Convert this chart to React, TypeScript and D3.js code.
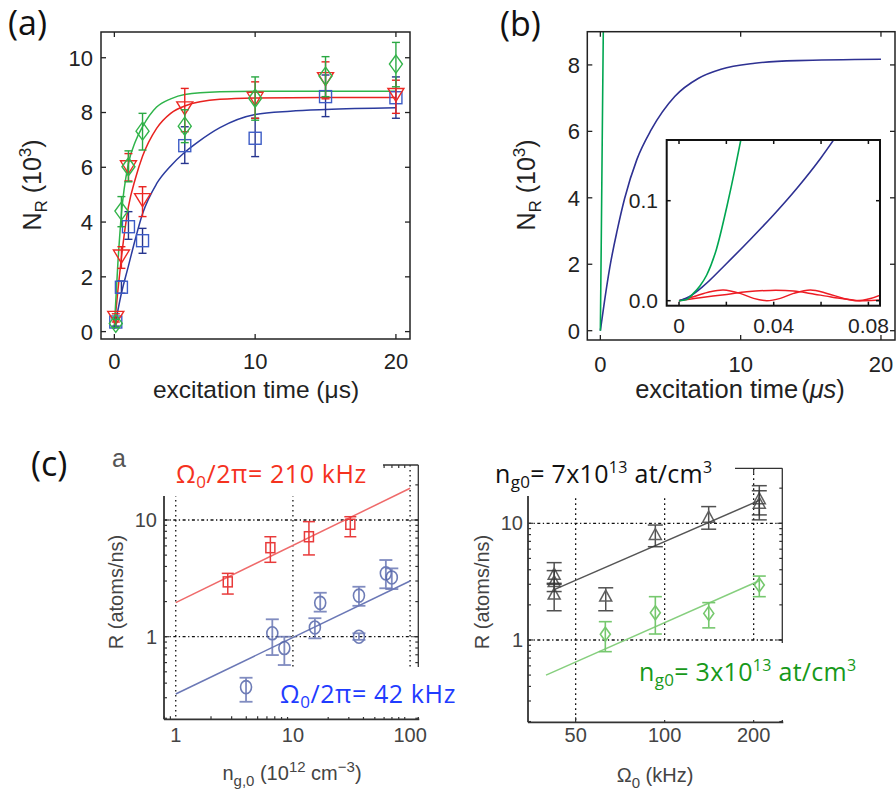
import React from "react";
import * as d3 from "d3";

// ---------------- Panel (a) data ----------------
const timesA = [0.1, 0.5, 1, 2, 5, 10, 15, 20];
const blueA = [0.35, 1.62, 3.83, 3.32, 6.79, 7.06, 8.58, 8.54];
const blueALo = [0.2, 1.4, 3.37, 2.86, 6.14, 6.39, 7.85, 7.79];
const blueAHi = [0.5, 1.85, 4.38, 3.77, 7.48, 7.79, 9.37, 9.3];
const redA = [0.5, 2.74, 6.0, 4.8, 8.15, 8.5, 9.22, 8.64];
const redALo = [0.35, 2.31, 5.5, 4.2, 7.3, 7.79, 8.5, 7.97];
const redAHi = [0.65, 3.1, 6.5, 5.29, 8.88, 9.12, 9.85, 9.18];
const greenA = [0.3, 4.4, 6.02, 7.32, 7.5, 8.52, 9.33, 9.77];
const greenALo = [0.15, 3.83, 5.47, 6.63, 6.9, 7.72, 8.58, 8.94];
const greenAHi = [0.45, 4.93, 6.6, 7.97, 8.1, 9.3, 10.04, 10.56];

const blueFitT = [0, 0.5, 1, 1.5, 2, 3, 4, 5, 6, 7.5, 10, 12.5, 15, 20];
const blueFitV = [0.1, 1.4, 2.4, 3.4, 4.3, 5.4, 6.05, 6.55, 6.95, 7.45, 7.93, 8.05, 8.11, 8.17];
const redFitT = [0, 0.25, 0.5, 1, 1.5, 2, 3, 4, 5, 7.5, 10, 15, 20];
const redFitV = [0.2, 1.5, 2.7, 4.56, 5.6, 6.4, 7.42, 7.97, 8.24, 8.48, 8.53, 8.55, 8.55];
const greenFitT = [0, 0.25, 0.5, 1, 1.5, 2, 3, 4, 5, 7.5, 10, 20];
const greenFitV = [0.2, 2.5, 4.3, 6.14, 6.95, 7.48, 8.2, 8.5, 8.66, 8.76, 8.78, 8.78];

const ticksAX = [0, 10, 20];
const ticksAY = [0, 2, 4, 6, 8, 10];

// ---------------- Panel (b) data ----------------
const blueBT = [0, 0.3, 0.67, 1.2, 1.73, 2.6, 3.63, 5.3, 7, 8.6, 11, 14, 20];
const blueBV = [0, 0.9, 1.9, 3.02, 3.98, 5.15, 6.05, 7.05, 7.6, 7.87, 8.05, 8.13, 8.17];
const greenBT = [0, 0.07, 0.14, 0.21];
const greenBV = [0, 2.9, 6.0, 9.0];
const ticksBX = [0, 10, 20];
const ticksBY = [0, 2, 4, 6, 8];

// inset
const insetGreenT = [0, 0.00325, 0.00607, 0.0089, 0.0117, 0.0159, 0.0202, 0.0237, 0.0261];
const insetGreenV = [0, 0.0013, 0.0073, 0.015, 0.0257, 0.0523, 0.094, 0.1323, 0.1607];
const insetBlueT = [0, 0.005, 0.01, 0.02, 0.03, 0.04, 0.05, 0.06, 0.0653];
const insetBlueV = [0, 0.005, 0.014, 0.037, 0.061, 0.086, 0.113, 0.143, 0.1607];
const insetRed1T = [0, 0.00607, 0.0131, 0.0188, 0.0258, 0.0315, 0.0371, 0.0428, 0.0484, 0.0555, 0.0625, 0.0696, 0.0752, 0.0809, 0.0851];
const insetRed1V = [0, 0.004, 0.009, 0.0107, 0.0073, 0.0023, 0, 0.0023, 0.0073, 0.0107, 0.0073, 0.0023, 0, 0.0023, 0.0057];
const insetRed2T = [0, 0.0089, 0.0202, 0.0286, 0.0385, 0.0484, 0.0555, 0.0653, 0.0766, 0.0851];
const insetRed2V = [0, 0.003, 0.0063, 0.009, 0.0103, 0.0097, 0.0073, 0.0033, 0, 0.0007];
const insetTicksX = [0, 0.02, 0.04, 0.06, 0.08];
const insetLabelsX = [0, 0.04, 0.08];
const insetLabelsXText = ["0", "0.04", "0.08"];
const insetTicksY = [0, 0.1];
const insetLabelsYText = ["0.0", "0.1"];

// ---------------- Panel (c) left data ----------------
const redN = [2.78, 6.42, 13.7, 30.9];
const redR = [2.95, 5.79, 7.19, 9.19];
const redRLo = [2.32, 4.34, 5.02, 7.19];
const redRHi = [3.49, 7.19, 9.68, 10.67];
const blueN = [3.98, 6.67, 8.45, 15.4, 17.1, 36.6, 36.6, 62.1, 69.8];
const blueR = [0.37, 1.07, 0.8, 1.2, 1.95, 2.25, 1.0, 3.49, 3.22];
const blueRLo = [0.277, 0.696, 0.572, 0.968, 1.64, 1.84, 0.94, 2.6, 2.56];
const blueRHi = [0.445, 1.41, 1.0, 1.44, 2.38, 2.68, 1.07, 4.54, 3.85];
const redFitN = [1, 100];
const redFitR = [1.96, 18.7];
const blueFitN = [1, 100];
const blueFitR = [0.323, 3.0];
const ticksCLX = [1, 10, 100];
const ticksCY = [1, 10];

// ---------------- Panel (c) right data ----------------
const blackOmega = [42.3, 42.3, 42.3, 63.2, 93, 140.9, 209, 209];
const blackR = [3.7, 3.2, 2.5, 2.4, 8.1, 11.4, 16.4, 15.0];
const blackRLo = [3.0, 2.6, 1.78, 1.78, 6.3, 8.9, 11.8, 10.7];
const blackRHi = [4.6, 3.93, 3.06, 2.8, 9.66, 13.9, 21, 19];
const greenOmega = [63, 93, 141, 209];
const greenR = [1.12, 1.71, 1.69, 2.96];
const greenRLo = [0.794, 1.125, 1.27, 2.35];
const greenRHi = [1.435, 2.35, 2.09, 3.53];
const blackFitO = [42.3, 209];
const blackFitR = [2.7, 15.7];
const greenFitO = [39.7, 209];
const greenFitR = [0.5, 3.22];
const ticksCRX = [50, 100, 200];

const HELV = "'Liberation Sans', Arial, Helvetica, sans-serif";
const CAL = "'Open Sans', 'Noto Sans', sans-serif";

type Sc = (v: number) => number;

function pathOf(xs: number[], ys: number[], sx: Sc, sy: Sc, curve: any = d3.curveMonotoneX) {
  const pts: [number, number][] = xs.map((x, i) => [sx(x), sy(ys[i])]);
  return d3.line().curve(curve)(pts) || "";
}

function ErrBar({ x, lo, hi, cw, color, sw = 1.3 }: any) {
  return (
    <g stroke={color} strokeWidth={sw} fill="none">
      <line x1={x} x2={x} y1={lo} y2={hi} />
      <line x1={x - cw / 2} x2={x + cw / 2} y1={lo} y2={lo} />
      <line x1={x - cw / 2} x2={x + cw / 2} y1={hi} y2={hi} />
    </g>
  );
}

function Marker({ kind, x, y, w, h, color, sw = 1.3 }: any) {
  if (kind === "square")
    return <rect x={x - w / 2} y={y - h / 2} width={w} height={h} fill="none" stroke={color} strokeWidth={sw} />;
  if (kind === "circle")
    return <ellipse cx={x} cy={y} rx={w / 2} ry={h / 2} fill="none" stroke={color} strokeWidth={sw} />;
  let pts: number[][] = [];
  if (kind === "triDown") pts = [[x - w / 2, y - h / 2], [x + w / 2, y - h / 2], [x, y + h / 2]];
  if (kind === "triUp") pts = [[x - w / 2, y + h / 2], [x + w / 2, y + h / 2], [x, y - h / 2]];
  if (kind === "diamond") pts = [[x, y - h / 2], [x + w / 2, y], [x, y + h / 2], [x - w / 2, y]];
  return <polygon points={pts.map((p) => p.join(",")).join(" ")} fill="none" stroke={color} strokeWidth={sw} />;
}

function PanelA() {
  const sx = d3.scaleLinear().domain([-0.95, 21]).range([101, 410]);
  const sy = d3.scaleLinear().domain([-0.27, 10.94]).range([339, 32]);
  const [x0, x1] = sx.range();
  const [y0, y1] = sy.range();
  const series = [
    { v: blueA, lo: blueALo, hi: blueAHi, kind: "square", w: 12, h: 12, mc: "#3d5cc6", ec: "#27358f" },
    { v: redA, lo: redALo, hi: redAHi, kind: "triDown", w: 16, h: 13, mc: "#ee2a24", ec: "#e8221f" },
    { v: greenA, lo: greenALo, hi: greenAHi, kind: "diamond", w: 13, h: 18, mc: "#33b44a", ec: "#2aa843" },
  ];
  return (
    <g>
      <text x={8} y={35} fontFamily={CAL} fontSize={34} fill="#111">(a)</text>
      <path d={pathOf(blueFitT, blueFitV, sx, sy)} fill="none" stroke="#2b3b9e" strokeWidth={1.5} />
      <path d={pathOf(redFitT, redFitV, sx, sy)} fill="none" stroke="#e8221f" strokeWidth={1.5} />
      <path d={pathOf(greenFitT, greenFitV, sx, sy)} fill="none" stroke="#2fb44a" strokeWidth={1.5} />
      {series.map((s, si) => (
        <g key={si}>
          {timesA.map((t, i) => (
            <g key={i}>
              <ErrBar x={sx(t)} lo={sy(s.lo[i])} hi={sy(s.hi[i])} cw={8} color={s.ec} sw={1.4} />
              <Marker kind={s.kind} x={sx(t)} y={sy(s.v[i])} w={s.w} h={s.h} color={s.mc} sw={1.4} />
            </g>
          ))}
        </g>
      ))}
      <rect x={x0} y={y1} width={x1 - x0} height={y0 - y1} fill="none" stroke="#222" strokeWidth={1.5} />
      {ticksAX.map((t) => (
        <g key={t} stroke="#222" strokeWidth={1.3}>
          <line x1={sx(t)} x2={sx(t)} y1={y0} y2={y0 - 5} />
          <line x1={sx(t)} x2={sx(t)} y1={y1} y2={y1 + 5} />
        </g>
      ))}
      {ticksAY.map((t) => (
        <g key={t} stroke="#222" strokeWidth={1.3}>
          <line x1={x0} x2={x0 + 5} y1={sy(t)} y2={sy(t)} />
          <line x1={x1} x2={x1 - 5} y1={sy(t)} y2={sy(t)} />
        </g>
      ))}
      {ticksAX.map((t) => (
        <text key={t} x={sx(t)} y={369} textAnchor="middle" fontFamily={HELV} fontSize={22} fill="#222">{t}</text>
      ))}
      {ticksAY.map((t) => (
        <text key={t} x={93} y={sy(t)} dy="0.36em" textAnchor="end" fontFamily={HELV} fontSize={22} fill="#222">{t}</text>
      ))}
      <text x={256} y={398} textAnchor="middle" fontFamily={HELV} fontSize={24.5} fill="#222">excitation time (μs)</text>
      <text transform="translate(41,185) rotate(-90)" textAnchor="middle" fontFamily={HELV} fontSize={25} fill="#222">
        N<tspan dy={6} fontSize={17}>R</tspan>
        <tspan dy={-6}> (10</tspan>
        <tspan dy={-10} fontSize={17}>3</tspan>
        <tspan dy={10}>)</tspan>
      </text>
    </g>
  );
}

function PanelB() {
  const sx = d3.scaleLinear().domain([-0.93, 21]).range([587.3, 895]);
  const sy = d3.scaleLinear().domain([-0.28, 9.0]).range([340, 31.7]);
  const [x0, x1] = sx.range();
  const [y0, y1] = sy.range();
  const ix = d3.scaleLinear().domain([-0.0052, 0.0849]).range([666.7, 880]);
  const iy = d3.scaleLinear().domain([-0.005, 0.1607]).range([305.7, 140]);
  const [ix0, ix1] = ix.range();
  const [iy0, iy1] = iy.range();
  return (
    <g>
      <defs>
        <clipPath id="clipB"><rect x={x0} y={y1} width={x1 - x0} height={y0 - y1} /></clipPath>
        <clipPath id="clipI"><rect x={ix0} y={iy1} width={ix1 - ix0} height={iy0 - iy1} /></clipPath>
      </defs>
      <text x={500} y={36} fontFamily={CAL} fontSize={34} fill="#111">(b)</text>
      <g clipPath="url(#clipB)">
        <path d={pathOf(blueBT, blueBV, sx, sy)} fill="none" stroke="#2e3192" strokeWidth={1.6} />
        <path d={pathOf(greenBT, greenBV, sx, sy)} fill="none" stroke="#00a651" strokeWidth={1.6} />
      </g>
      <rect x={x0} y={y1} width={x1 - x0} height={y0 - y1} fill="none" stroke="#222" strokeWidth={1.5} />
      {ticksBX.map((t) => (
        <g key={t} stroke="#222" strokeWidth={1.3}>
          <line x1={sx(t)} x2={sx(t)} y1={y0} y2={y0 - 5} />
          <line x1={sx(t)} x2={sx(t)} y1={y1} y2={y1 + 5} />
        </g>
      ))}
      {ticksBY.map((t) => (
        <g key={t} stroke="#222" strokeWidth={1.3}>
          <line x1={x0} x2={x0 + 5} y1={sy(t)} y2={sy(t)} />
          <line x1={x1} x2={x1 - 5} y1={sy(t)} y2={sy(t)} />
        </g>
      ))}
      {ticksBX.map((t) => (
        <text key={t} x={sx(t)} y={372} textAnchor="middle" fontFamily={HELV} fontSize={22} fill="#222">{t}</text>
      ))}
      {ticksBY.map((t) => (
        <text key={t} x={580} y={sy(t)} dy="0.36em" textAnchor="end" fontFamily={HELV} fontSize={22} fill="#222">{t}</text>
      ))}
      <text x={740} y={398} textAnchor="middle" fontFamily={HELV} fontSize={25.5} fill="#222">
        excitation time<tspan dx={3}>(</tspan><tspan fontStyle="italic">μs</tspan><tspan>)</tspan>
      </text>
      <text transform="translate(535,185) rotate(-90)" textAnchor="middle" fontFamily={HELV} fontSize={25} fill="#222">
        N<tspan dy={6} fontSize={17}>R</tspan>
        <tspan dy={-6}> (10</tspan>
        <tspan dy={-10} fontSize={17}>3</tspan>
        <tspan dy={10}>)</tspan>
      </text>
      {/* inset */}
      <rect x={ix0} y={iy1} width={ix1 - ix0} height={iy0 - iy1} fill="#fff" stroke="none" />
      <g clipPath="url(#clipI)">
        <path d={pathOf(insetRed1T, insetRed1V, ix, iy, d3.curveCatmullRom)} fill="none" stroke="#ed1c24" strokeWidth={1.5} />
        <path d={pathOf(insetRed2T, insetRed2V, ix, iy, d3.curveCatmullRom)} fill="none" stroke="#ed1c24" strokeWidth={1.5} />
        <path d={pathOf(insetBlueT, insetBlueV, ix, iy)} fill="none" stroke="#2e3192" strokeWidth={1.6} />
        <path d={pathOf(insetGreenT, insetGreenV, ix, iy)} fill="none" stroke="#00a651" strokeWidth={1.6} />
      </g>
      <rect x={ix0} y={iy1} width={ix1 - ix0} height={iy0 - iy1} fill="none" stroke="#111" strokeWidth={2} />
      {insetTicksX.map((t) => (
        <g key={t} stroke="#111" strokeWidth={1.5}>
          <line x1={ix(t)} x2={ix(t)} y1={iy0} y2={iy0 - 4} />
          <line x1={ix(t)} x2={ix(t)} y1={iy1} y2={iy1 + 4} />
        </g>
      ))}
      {insetTicksY.map((t) => (
        <g key={t} stroke="#111" strokeWidth={1.5}>
          <line x1={ix0} x2={ix0 + 4} y1={iy(t)} y2={iy(t)} />
          <line x1={ix1} x2={ix1 - 4} y1={iy(t)} y2={iy(t)} />
        </g>
      ))}
      {insetLabelsX.map((t, i) => (
        <text key={t} x={ix(t)} y={333} textAnchor="middle" fontFamily={HELV} fontSize={21} fill="#222">{insetLabelsXText[i]}</text>
      ))}
      {insetTicksY.map((t, i) => (
        <text key={t} x={658} y={iy(t)} dy="0.36em" textAnchor="end" fontFamily={HELV} fontSize={21} fill="#222">{insetLabelsYText[i]}</text>
      ))}
    </g>
  );
}

function logMinor(lo: number, hi: number) {
  const out: number[] = [];
  for (let e = Math.floor(Math.log10(lo)); e <= Math.ceil(Math.log10(hi)); e++) {
    for (let m = 2; m <= 9; m++) {
      const v = m * Math.pow(10, e);
      if (v > lo && v < hi) out.push(v);
    }
  }
  return out;
}

const GRID_DASH = "1.6 3.4";

function PanelCLeft() {
  const sx = d3.scaleLog().domain([0.794, 117.5]).range([164, 418.3]);
  const sy = d3.scaleLog().domain([0.196, 29.6]).range([719.3, 465]);
  const [x0, x1] = sx.range();
  const [y0, y1] = sy.range();
  const minY = logMinor(0.196, 29.6);
  const minX = logMinor(0.794, 117.5);
  return (
    <g>
      <text x={31} y={476} fontFamily={CAL} fontSize={34} fill="#111">(c)</text>
      <text x={112} y={467} fontFamily={HELV} fontSize={25} fill="#555">a</text>
      {ticksCLX.map((t) => (
        <line key={t} x1={sx(t)} x2={sx(t)} y1={y1} y2={y0} stroke="#111" strokeWidth={1.3} strokeDasharray={GRID_DASH} />
      ))}
      {ticksCY.map((t) => (
        <line key={t} x1={x0} x2={x1} y1={sy(t)} y2={sy(t)} stroke="#111" strokeWidth={1.3} strokeDasharray="3 2.5 1.3 2.5" />
      ))}
      <g stroke="#333" fill="none">
        <line x1={x0} x2={x0} y1={y1} y2={y0} strokeWidth={1.8} />
        <line x1={x0} x2={x1 + 1} y1={y0} y2={y0} strokeWidth={1.8} />
        <line x1={x1} x2={x1} y1={y1} y2={y0} strokeWidth={1.3} />
        <line x1={x0} x2={x1} y1={y1} y2={y1} strokeWidth={1.3} />
        {minY.map((t) => (
          <g key={t} strokeWidth={1.2}>
            <line x1={x0} x2={x0 + 3} y1={sy(t)} y2={sy(t)} />
            <line x1={x1} x2={x1 - 3} y1={sy(t)} y2={sy(t)} />
          </g>
        ))}
        {ticksCY.map((t) => (
          <g key={t} strokeWidth={1.2}>
            <line x1={x0} x2={x0 + 5} y1={sy(t)} y2={sy(t)} />
            <line x1={x1} x2={x1 - 5} y1={sy(t)} y2={sy(t)} />
          </g>
        ))}
        {minX.map((t) => (
          <g key={t} strokeWidth={1.2}>
            <line x1={sx(t)} x2={sx(t)} y1={y0} y2={y0 - 3} />
            <line x1={sx(t)} x2={sx(t)} y1={y1} y2={y1 + 3} />
          </g>
        ))}
      </g>
      <rect x={150} y={440} width={233} height={56} fill="#fff" />
      <rect x={276} y={667} width={190} height={50} fill="#fff" />
      <path d={pathOf(redFitN, redFitR, sx, sy, d3.curveLinear)} stroke="#ef6a6a" strokeWidth={1.5} fill="none" />
      <path d={pathOf(blueFitN, blueFitR, sx, sy, d3.curveLinear)} stroke="#6b78b6" strokeWidth={1.5} fill="none" />
      {redN.map((n, i) => (
        <g key={i}>
          <ErrBar x={sx(n)} lo={sy(redRLo[i])} hi={sy(redRHi[i])} cw={12} color="#e83a3a" sw={1.5} />
          <Marker kind="square" x={sx(n)} y={sy(redR[i])} w={9} h={10} color="#e83a3a" sw={1.5} />
        </g>
      ))}
      {blueN.map((n, i) => (
        <g key={i} opacity={0.85}>
          <ErrBar x={sx(n)} lo={sy(blueRLo[i])} hi={sy(blueRHi[i])} cw={13} color="#6b78b6" sw={1.8} />
          <Marker kind="circle" x={sx(n)} y={sy(blueR[i])} w={11} h={13} color="#5566aa" sw={1.6} />
        </g>
      ))}
      {ticksCLX.map((t) => (
        <text key={t} x={sx(t)} y={742} textAnchor="middle" fontFamily={HELV} fontSize={20} fill="#444">{t}</text>
      ))}
      {ticksCY.map((t) => (
        <text key={t} x={157} y={sy(t)} dy="0.36em" textAnchor="end" fontFamily={HELV} fontSize={20} fill="#444">{t}</text>
      ))}
      <text transform="translate(123,592) rotate(-90)" textAnchor="middle" fontFamily={HELV} fontSize={20} fill="#444">R (atoms/ns)</text>
      <text x={292} y={780} textAnchor="middle" fontFamily={HELV} fontSize={20} fill="#444">
        n<tspan dy={6} fontSize={15}>g,0</tspan>
        <tspan dy={-6}> (10</tspan>
        <tspan dy={-8} fontSize={15}>12</tspan>
        <tspan dy={8}> cm</tspan>
        <tspan dy={-8} fontSize={15}>−3</tspan>
        <tspan dy={8}>)</tspan>
      </text>
      <text x={176} y={483} fontFamily={CAL} fontSize={25} letterSpacing={0.6} fill="#f5321e">
        Ω<tspan dy={5} fontSize={17}>0</tspan>
        <tspan dy={-5}>/2π= 210 kHz</tspan>
      </text>
      <text x={280} y={703} fontFamily={CAL} fontSize={25} letterSpacing={0.6} fill="#1f3cff">
        Ω<tspan dy={5} fontSize={17}>0</tspan>
        <tspan dy={-5}>/2π= 42 kHz</tspan>
      </text>
    </g>
  );
}

function PanelCRight() {
  const sx = d3.scaleLog().domain([34.5, 250]).range([528, 782.3]);
  const sy = d3.scaleLog().domain([0.197, 29.6]).range([722.3, 468.3]);
  const [x0, x1] = sx.range();
  const [y0, y1] = sy.range();
  const minY = logMinor(0.197, 29.6);
  return (
    <g>
      {ticksCRX.map((t) => (
        <line key={t} x1={sx(t)} x2={sx(t)} y1={y1} y2={y0} stroke="#111" strokeWidth={1.3} strokeDasharray={GRID_DASH} />
      ))}
      {ticksCY.map((t) => (
        <line key={t} x1={x0} x2={x1} y1={sy(t)} y2={sy(t)} stroke="#111" strokeWidth={1.3} strokeDasharray="3 2.5 1.3 2.5" />
      ))}
      <g stroke="#333" fill="none">
        <line x1={x0} x2={x0} y1={y1} y2={y0} strokeWidth={1.8} />
        <line x1={x0} x2={x1 + 1} y1={y0} y2={y0} strokeWidth={1.8} />
        <line x1={x1} x2={x1} y1={y1} y2={y0} strokeWidth={1.3} />
        <line x1={x0} x2={x1} y1={y1} y2={y1} strokeWidth={1.3} />
        {minY.map((t) => (
          <g key={t} strokeWidth={1.2}>
            <line x1={x0} x2={x0 + 3} y1={sy(t)} y2={sy(t)} />
            <line x1={x1} x2={x1 - 3} y1={sy(t)} y2={sy(t)} />
          </g>
        ))}
        {ticksCY.map((t) => (
          <g key={t} strokeWidth={1.2}>
            <line x1={x0} x2={x0 + 5} y1={sy(t)} y2={sy(t)} />
            <line x1={x1} x2={x1 - 5} y1={sy(t)} y2={sy(t)} />
          </g>
        ))}
        {ticksCRX.map((t) => (
          <g key={t} strokeWidth={1.2}>
            <line x1={sx(t)} x2={sx(t)} y1={y0} y2={y0 - 5} />
            <line x1={sx(t)} x2={sx(t)} y1={y1} y2={y1 + 5} />
          </g>
        ))}
      </g>
      <rect x={490} y={440} width={245} height={56} fill="#fff" />
      <rect x={636} y={643} width={225} height={77} fill="#fff" />
      <path d={pathOf(blackFitO, blackFitR, sx, sy, d3.curveLinear)} stroke="#555" strokeWidth={1.5} fill="none" />
      <path d={pathOf(greenFitO, greenFitR, sx, sy, d3.curveLinear)} stroke="#86cf7e" strokeWidth={1.5} fill="none" />
      {blackOmega.map((o, i) => (
        <g key={i} opacity={0.85}>
          <ErrBar x={sx(o)} lo={sy(blackRLo[i])} hi={sy(blackRHi[i])} cw={15} color="#333" sw={1.5} />
          <Marker kind="triUp" x={sx(o)} y={sy(blackR[i])} w={12} h={11} color="#444" sw={1.5} />
        </g>
      ))}
      {greenOmega.map((o, i) => (
        <g key={i}>
          <ErrBar x={sx(o)} lo={sy(greenRLo[i])} hi={sy(greenRHi[i])} cw={13} color="#76c86e" sw={1.6} />
          <Marker kind="diamond" x={sx(o)} y={sy(greenR[i])} w={10} h={14} color="#76c86e" sw={1.6} />
        </g>
      ))}
      {ticksCRX.map((t) => (
        <text key={t} x={sx(t)} y={742} textAnchor="middle" fontFamily={HELV} fontSize={20} fill="#444">{t}</text>
      ))}
      {ticksCY.map((t) => (
        <text key={t} x={523} y={sy(t)} dy="0.36em" textAnchor="end" fontFamily={HELV} fontSize={20} fill="#444">{t}</text>
      ))}
      <text transform="translate(489,592) rotate(-90)" textAnchor="middle" fontFamily={HELV} fontSize={20} fill="#444">R (atoms/ns)</text>
      <text x={655} y={782} textAnchor="middle" fontFamily={HELV} fontSize={20} fill="#444">
        Ω<tspan dy={6} fontSize={15}>0</tspan>
        <tspan dy={-6}> (kHz)</tspan>
      </text>
      <text x={495} y={483} fontFamily={CAL} fontSize={25} letterSpacing={0.3} fill="#111">
        n<tspan dy={5} fontSize={17}>g0</tspan>
        <tspan dy={-5}>= 7x10</tspan>
        <tspan dy={-10} fontSize={16}>13</tspan>
        <tspan dy={10}> at/cm</tspan>
        <tspan dy={-10} fontSize={16}>3</tspan>
      </text>
      <text x={639} y={681} fontFamily={CAL} fontSize={25} letterSpacing={0.3} fill="#17991a">
        n<tspan dy={5} fontSize={17}>g0</tspan>
        <tspan dy={-5}>= 3x10</tspan>
        <tspan dy={-10} fontSize={16}>13</tspan>
        <tspan dy={10}> at/cm</tspan>
        <tspan dy={-10} fontSize={16}>3</tspan>
      </text>
    </g>
  );
}

export default function App() {
  return (
    <svg width={896} height={798} viewBox="0 0 896 798" style={{ position: "absolute", left: 0, top: 0, background: "#fff" }}>
      <rect x={0} y={0} width={896} height={798} fill="#fff" />
      <PanelA />
      <PanelB />
      <PanelCLeft />
      <PanelCRight />
    </svg>
  );
}
